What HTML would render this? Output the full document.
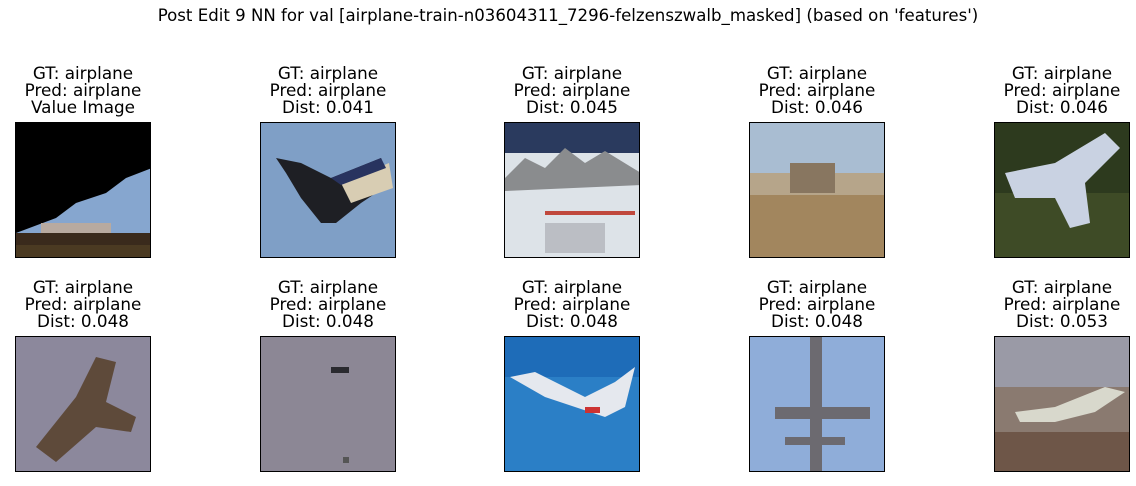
<!DOCTYPE html>
<html><head><meta charset="utf-8">
<style>
body{margin:0;width:1136px;height:486px;background:#fff;position:relative;overflow:hidden;font-family:"DejaVu Sans","Liberation Sans",sans-serif;color:#000}
.sup{position:absolute;left:0;width:1136px;top:6px;text-align:center;font-size:16.6px}
.ttl{position:absolute;width:200px;text-align:center;font-size:16.8px;line-height:17px}
.pan{position:absolute;width:134px;height:134px;border:1px solid #000;overflow:hidden}
.pan svg{display:block}
</style></head><body>
<div class="sup">Post Edit 9 NN for val [airplane-train-n03604311_7296-felzenszwalb_masked] (based on 'features')</div>
<div id="root"></div>
<script>
const gts=["airplane","airplane","airplane","airplane","airplane","airplane","airplane","airplane","airplane","airplane"];
const preds=["airplane","airplane","airplane","airplane","airplane","airplane","airplane","airplane","airplane","airplane"];
const dists=[null,0.041,0.045,0.046,0.046,0.048,0.048,0.048,0.048,0.053];
const arts=[
'<rect width="136" height="136" fill="#000"/><polygon points="0,110 40,95 60,80 90,70 110,55 136,45 136,125 0,125" fill="#86a6cf"/><rect x="25" y="100" width="70" height="10" fill="#b8aaa0"/><rect x="0" y="110" width="136" height="26" fill="#3a2a1c"/><rect x="0" y="122" width="136" height="14" fill="#4b3a22"/>',
'<rect width="136" height="136" fill="#7f9fc6"/><polygon points="15,35 40,40 70,55 120,35 130,60 100,80 75,100 60,100 40,75 25,50" fill="#1e1f24"/><polygon points="80,60 128,40 132,65 90,80" fill="#d8cdb3"/><polygon points="70,55 120,35 125,45 80,62" fill="#28335f"/>',
'<rect width="136" height="136" fill="#dde3e8"/><rect width="136" height="30" fill="#2a3a5e"/><polygon points="0,55 20,35 40,45 60,25 80,40 100,28 136,50 136,62 0,68" fill="#8a8c8e"/><rect x="40" y="88" width="90" height="4" fill="#c0483c"/><rect x="40" y="100" width="60" height="30" fill="#a5a5ab" opacity=".6"/>',
'<rect width="136" height="136" fill="#a2865e"/><rect width="136" height="55" fill="#a9bdd2"/><rect x="0" y="50" width="136" height="22" fill="#b6a58a"/><rect x="40" y="40" width="45" height="30" fill="#887660"/>',
'<rect width="136" height="136" fill="#2d3a1e"/><rect x="0" y="70" width="136" height="66" fill="#3e4b26"/><polygon points="10,50 60,40 110,10 125,25 90,60 95,100 75,105 60,75 20,75" fill="#c9d2e2"/>',
'<rect width="136" height="136" fill="#8c889c"/><polygon points="20,110 60,60 80,20 100,25 90,65 120,80 115,95 80,90 40,125" fill="#5e4a3a"/>',
'<rect width="136" height="136" fill="#8c8795"/><rect x="70" y="30" width="18" height="6" fill="#2a2a2f"/><rect x="82" y="120" width="6" height="6" fill="#555"/>',
'<rect width="136" height="136" fill="#2b7fc6"/><rect x="0" y="0" width="136" height="40" fill="#1e6cb8"/><polygon points="5,40 40,60 100,80 120,70 130,30 110,45 80,60 30,35" fill="#e5e8ee"/><rect x="80" y="70" width="15" height="6" fill="#c33"/>',
'<rect width="136" height="136" fill="#8fadd9"/><rect x="60" y="0" width="12" height="136" fill="#6c6a70"/><rect x="25" y="70" width="95" height="12" fill="#6c6a70"/><rect x="35" y="100" width="60" height="8" fill="#6c6a70"/>',
'<rect width="136" height="136" fill="#8a7a70"/><rect width="136" height="50" fill="#9a9aa6"/><rect x="0" y="95" width="136" height="41" fill="#6e5648"/><polygon points="20,75 60,70 110,50 130,55 100,75 60,85 25,85" fill="#d8d8cc"/>'
];
const cols=[15,260,504,749,994], rows=[122,336];
const root=document.getElementById('root');
for(let i=0;i<10;i++){
 const c=cols[i%5], r=rows[Math.floor(i/5)];
 const t=document.createElement('div');
 t.className='ttl';
 
 
 t.style.left=(c+68-100)+'px'; t.style.top=(r-57)+'px';
 t.innerHTML='GT: '+gts[i]+'<br>Pred: '+preds[i]+'<br>'+(dists[i]===null?'Value Image':'Dist: '+dists[i].toFixed(3));
 root.appendChild(t);
 const p=document.createElement('div');
 p.className='pan';
 
 
 p.style.left=c+'px'; p.style.top=r+'px';
 p.innerHTML='<svg width="136" height="136" viewBox="0 0 136 136">'+arts[i]+'</svg>';
 root.appendChild(p);
}
</script>
</body></html>
